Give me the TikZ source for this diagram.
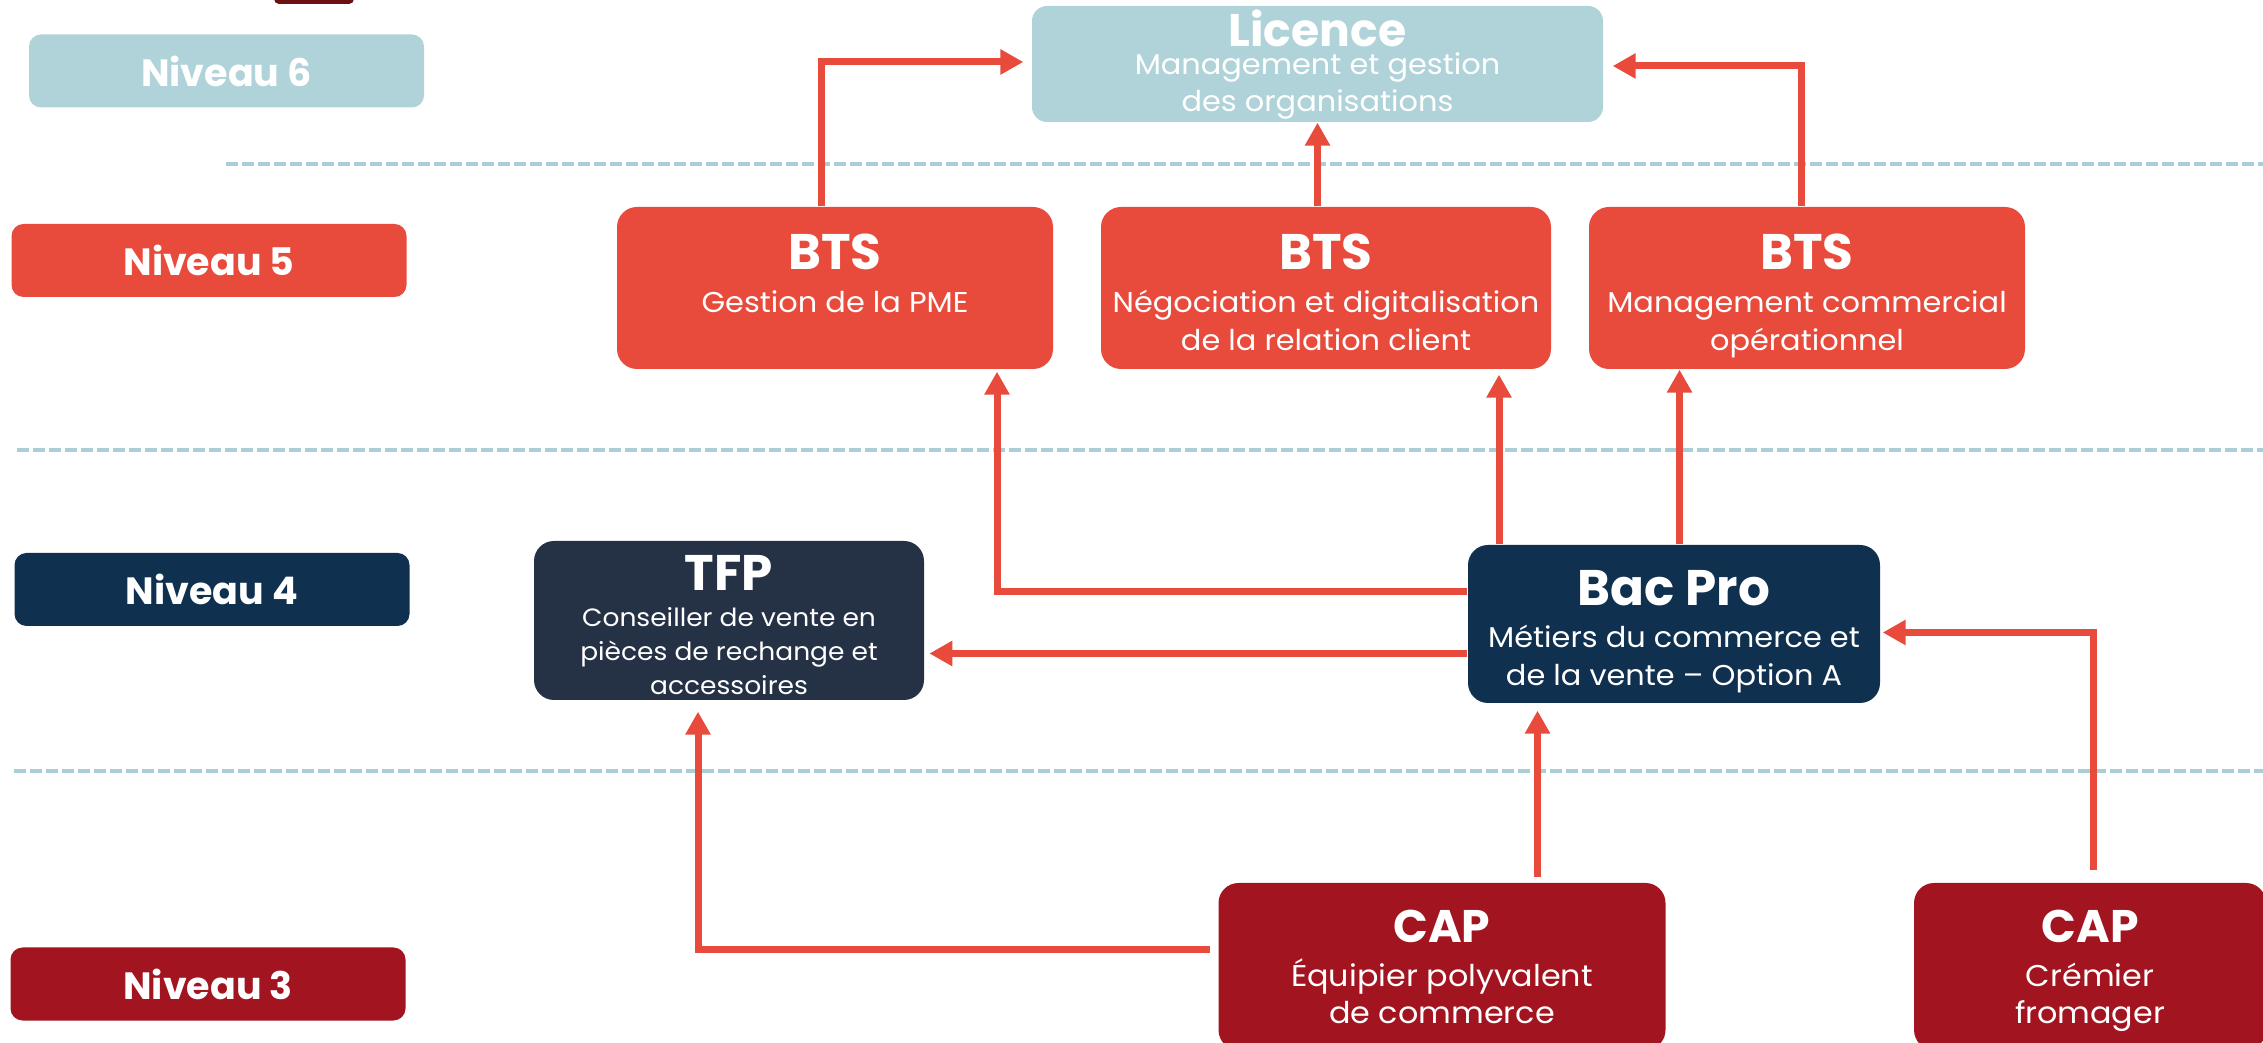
\documentclass[tikz,border=0pt]{standalone}
\usepackage{fontspec}
\setmainfont{Poppins}
\newfontfamily\subfont{Poppins}[FakeStretch=1.06]
\usetikzlibrary{positioning,arrows.meta}
\definecolor{levelblue}{HTML}{B0D3D9}
\definecolor{dashblue}{HTML}{A9CFD6}
\definecolor{levelred}{HTML}{E84A3C}
\definecolor{leveldark}{HTML}{A2141F}
\definecolor{levelnavy}{HTML}{10304F}
\definecolor{slate}{HTML}{253246}
\definecolor{maroon}{HTML}{6B1111}
\newcommand{\ttl}[1]{{\rmfamily\fontsize{15}{15}\selectfont\bfseries\rule{0pt}{13.1pt}#1}}
\newcommand{\smallttl}[1]{{\rmfamily\fontsize{13.7}{13.7}\selectfont\bfseries #1}}

\begin{document}
\begin{tikzpicture} [
		x=0.3pt, y=-0.3pt,
		level/.style    = { rectangle, rounded corners=3.6pt, inner sep=0pt,
			minimum width=118.5pt, minimum height=21.9pt, text=white,
			font=\fontsize{11.4}{14}\selectfont\bfseries },
		block/.style    = { rectangle, rounded corners=6pt, inner sep=0pt,
			text=white, align=center, minimum height=48.6pt, text depth=0pt,
			font=\subfont\fontsize{8.6}{11.4}\selectfont },
		line/.style     = { draw=levelred, line width=2.1pt,
			-{Triangle[length=6.9pt,width=7.2pt]} },
		sep/.style      = { draw=dashblue, line width=1.2pt,
			dash pattern=on 3.45pt off 1.35pt },
		]
		\useasboundingbox (0,0) rectangle (2263,1043);
		\fill[maroon, rounded corners=1.5pt] (274,-10) rectangle (354,4);
		% level separators
		\draw[sep] (226,164) -- (2263,164);
		\draw[sep] (17,450) -- (2263,450);
		\draw[sep] (14,771) -- (2263,771);
		% level labels
		\node [level, fill=levelblue] (n6) at (226.5,71) {Niveau 6};
		\node [level, fill=levelred] (n5) at (209,260.5) {Niveau 5};
		\node [level, fill=levelnavy] (n4) at (212,589.5) {Niveau 4};
		\node [level, fill=leveldark] (n3) at (208,984) {Niveau 3};
		% diplomas
		\node [block, fill=levelblue, minimum width=171.3pt, minimum height=34.8pt,
			rounded corners=4.5pt, text depth=1.9pt,
			font=\subfont\fontsize{8.6}{11.1}\selectfont] (lic) at (1317.5,64)
			{\smallttl{Licence}\\[-2.7pt]Management et gestion\\des organisations};
		\node [block, fill=levelred, minimum width=130.8pt] (bts1) at (835,288)
			{\ttl{BTS}\\[1.5pt]Gestion de la PME\\~};
		\node [block, fill=levelred, minimum width=135pt] (bts2) at (1326,288)
			{\ttl{BTS}\\[1.5pt]Négociation et digitalisation\\de la relation client};
		\node [block, fill=levelred, minimum width=130.8pt] (bts3) at (1807,288)
			{\ttl{BTS}\\[1.5pt]Management commercial\\opérationnel};
		\node [block, fill=slate, minimum width=117pt, minimum height=47.7pt,
			font=\subfont\fontsize{7.5}{10.2}\selectfont] (tfp) at (729,620.5)
			{\ttl{TFP}\\[0.6pt]Conseiller de vente en\\pièces de rechange et\\accessoires};
		\node [block, fill=levelnavy, minimum width=123.6pt, minimum height=47.4pt] (bac) at (1674,624)
			{\ttl{Bac Pro}\\[1.2pt]Métiers du commerce et\\de la vente – Option A};
		\node [block, fill=leveldark, minimum width=134.1pt, minimum height=50.1pt,
			font=\subfont\fontsize{9}{11.1}\selectfont] (cap1) at (1442,966.5)
			{\smallttl{CAP}\\[2.1pt]Équipier polyvalent\\de commerce};
		\node [block, fill=leveldark, minimum width=105.6pt, minimum height=50.1pt,
			font=\subfont\fontsize{9}{11.1}\selectfont] (cap2) at (2090,966.5)
			{\smallttl{CAP}\\[2.1pt]Crémier\\fromager};
		% connect all nodes defined above
		\begin{scope} [every path/.style=line]
		\path ([xshift=-4.2pt] bts1.north) |- ([xshift=-2.4pt,yshift=0.6pt] lic.west);
		\path (lic.south |- bts2.north) -- (lic.south);
		\path ([xshift=-1.8pt] bts3.north) |- ([xshift=2.7pt,yshift=-0.6pt] lic.east);
		\path[shorten >=0.6pt]
		([yshift=9.75pt] bac.west) -| ([xshift=48.6pt] bts1.south);
		\path[shorten >=1.5pt]
		([xshift=-52.5pt] bac.north) -- ([xshift=-52.5pt] bac.north |- bts2.south);
		\path ([xshift=1.65pt] bac.north) -- ([xshift=1.65pt] bac.north |- bts3.south);
		\path[shorten >=1.4pt]
		([yshift=-8.85pt] bac.west) -- ([yshift=-8.85pt] bac.west -| tfp.east);
		% links from the CAP
		\path[shorten <=1.5pt, shorten >=2.1pt]
		([xshift=28.65pt] cap1.north) -- ([xshift=28.65pt] cap1.north |- bac.south);
		\path[shorten <=2.4pt, shorten >=3.3pt]
		([yshift=5.1pt] cap1.west) -| ([xshift=-9.3pt] tfp.south);
		\path[shorten <=3.6pt, shorten >=0.6pt]
		([xshift=0.9pt] cap2.north) |- ([yshift=-2.55pt] bac.east);
		\end{scope}
\end{tikzpicture}
\end{document}
